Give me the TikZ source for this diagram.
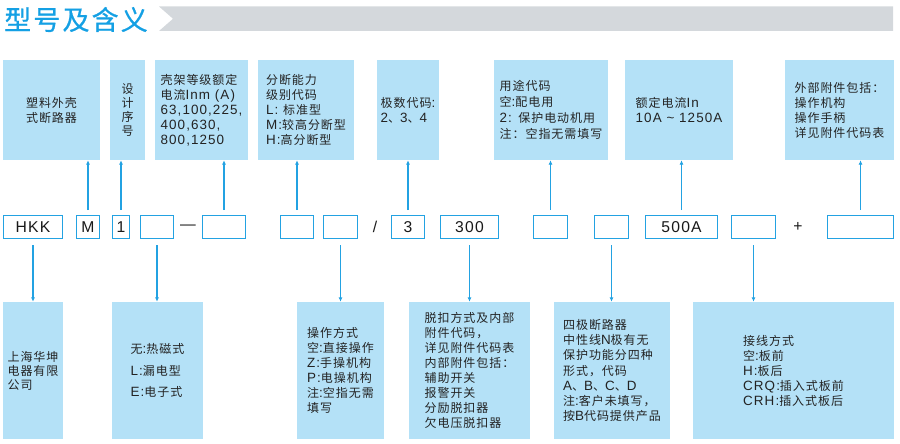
\documentclass[tikz,border=0pt]{standalone}
\usepackage{fontspec}
\usetikzlibrary{arrows.meta}
\setmainfont{Liberation Sans}
\newfontfamily\lat{Liberation Sans}[Scale=1.12,LetterSpace=8]
\newfontfamily\cjk{Noto Sans CJK SC}[LetterSpace=8]
\newfontfamily\titlefont{Noto Sans CJK SC}[LetterSpace=8,FakeBold=0.7]
\newcommand\mytitlesetup{\XeTeXinterchartokenstate=0 \titlefont\fontsize{27}{27}\selectfont}
% automatic switching between Latin and CJK fonts
\newXeTeXintercharclass\mycjkclass
\count255=0
\loop
\XeTeXcharclass\count255=0
\ifnum\count255<"2FFF \advance\count255 by 1 \repeat
\count255="3000
\loop
\XeTeXcharclass\count255=\mycjkclass
\ifnum\count255<"9FFF \advance\count255 by 1 \repeat
\count255="FF00
\loop
\XeTeXcharclass\count255=\mycjkclass
\ifnum\count255<"FFEF \advance\count255 by 1 \repeat
\XeTeXinterchartokenstate=1
\XeTeXinterchartoks 0 \mycjkclass={\cjk}
\XeTeXinterchartoks 4095 \mycjkclass={\cjk}
\XeTeXinterchartoks \mycjkclass 0={\lat}
\XeTeXinterchartoks 4095 0={\lat}
\definecolor{boxfill}{RGB}{180,225,247}
\definecolor{blueline}{RGB}{35,162,226}
\definecolor{titleblue}{RGB}{20,160,228}
\definecolor{graybar}{RGB}{212,216,220}
\definecolor{textcol}{RGB}{35,35,35}
\tikzset{
  infobox/.style={fill=boxfill, draw=none, inner sep=1pt, align=left, text=textcol,
    font=\fontsize{12}{15}\selectfont},
  topbox/.style={infobox, minimum height=100},
  botbox/.style={infobox, minimum height=137},
  codebox/.style={draw=blueline, line width=1.3pt, fill=white, inner sep=0pt,
    minimum height=22.7, text=black!90, font=\fontsize{14}{18}\selectfont},
  sepmark/.style={inner sep=0pt, text=black!90, font=\fontsize{14}{18}\selectfont},
  arr/.style={draw=blueline, line width=1.2pt, -{Latex[length=4.5pt,width=4pt]}},
}
\begin{document}
\begin{tikzpicture}[x=1pt,y=-1pt]
\useasboundingbox (0,0) rectangle (900,444);
% title
\fill[graybar] (159,6.5) -- (893,6.5) -- (893,31) -- (159,31) -- (173,18.75) -- cycle;
\node[anchor=west, inner sep=0pt, text=titleblue, font=\mytitlesetup] (title) at (4,19.5) {型号及含义};
% top boxes
\node[topbox, minimum width=97] (T1) at (51.5,110) {塑料外壳\\式断路器};
\node[topbox, minimum width=35, font=\fontsize{12}{14}\selectfont] (T2) at (127.5,110) {设\\计\\序\\号};
\node[topbox, minimum width=93] (T3) at (201.5,110) {壳架等级额定\\电流Inm (A)\\63,100,225,\\400,630,\\800,1250};
\node[topbox, minimum width=96] (T4) at (306,110) {分断能力\\级别代码\\L: 标准型\\M:较高分断型\\H:高分断型};
\node[topbox, minimum width=62] (T5) at (408,110) {极数代码:\\2、3、4};
\node[topbox, minimum width=114, font=\fontsize{12}{16}\selectfont] (T6) at (551,110) {用途代码\\空:配电用\\2: 保护电动机用\\注：空指无需填写};
\node[topbox, minimum width=108] (T7) at (679,110) {额定电流In\\10A \textasciitilde{} 1250A};
\node[topbox, minimum width=109] (T8) at (839.5,110) {外部附件包括：\\操作机构\\操作手柄\\详见附件代码表};
% code row
\node[codebox, minimum width=58.7] (HKK) at (33,227) {HKK};
\node[codebox, minimum width=22.7] (M) at (88,227) {M};
\node[codebox, minimum width=16.7] (one) at (121,227) {1};
\node[codebox, minimum width=32.7] (E1) at (157,227) {};
\node[sepmark] (dash) at (188,227) {—};
\node[codebox, minimum width=42.7] (E2) at (224,227) {};
\node[codebox, minimum width=32.7] (E3) at (297,227) {};
\node[codebox, minimum width=33.7] (E4) at (340.5,227) {};
\node[sepmark] (slash) at (375,227) {/};
\node[codebox, minimum width=32.7] (three) at (408,227) {3};
\node[codebox, minimum width=57.7] (n300) at (469.5,227) {300};
\node[codebox, minimum width=33.7] (E5) at (550.5,227) {};
\node[codebox, minimum width=33.7] (E6) at (611.5,227) {};
\node[codebox, minimum width=71.7] (n500) at (681.5,227) {500A};
\node[codebox, minimum width=43.7] (E7) at (753.5,227) {};
\node[sepmark] (plus) at (798,227) {+};
\node[codebox, minimum width=65.7] (E8) at (860.5,227) {};
% bottom boxes
\node[botbox, minimum width=60, font=\fontsize{12}{14}\selectfont] (B1) at (33,370.5) {上海华坤\\电器有限\\公司};
\node[botbox, minimum width=91, font=\fontsize{12}{21.5}\selectfont] (B2) at (157.5,370.5) {无:热磁式\\L:漏电型\\E:电子式};
\node[botbox, minimum width=87] (B3) at (340.5,370.5) {操作方式\\空:直接操作\\Z:手操机构\\P:电操机构\\注:空指无需\\填写};
\node[botbox, minimum width=121] (B4) at (469.5,370.5) {脱扣方式及内部\\附件代码，\\详见附件代码表\\内部附件包括：\\辅助开关\\报警开关\\分励脱扣器\\欠电压脱扣器};
\node[botbox, minimum width=116, font=\fontsize{12}{15.3}\selectfont] (B5) at (612,370.5) {四极断路器\\中性线N极有无\\保护功能分四种\\形式，代码\\A、B、C、D\\注:客户未填写，\\按B代码提供产品};
\node[botbox, minimum width=201] (B6) at (793.5,370.5) {接线方式\\空:板前\\H:板后\\CRQ:插入式板前\\CRH:插入式板后};
% upward arrows
\draw[arr] ([yshift=5pt]M.north) -- (M.north |- T1.south);
\draw[arr] ([yshift=5pt]one.north) -- (one.north |- T2.south);
\draw[arr] ([yshift=5pt]E2.north) -- (E2.north |- T3.south);
\draw[arr] ([yshift=5pt]E3.north) -- (E3.north |- T4.south);
\draw[arr] ([yshift=5pt]three.north) -- (three.north |- T5.south);
\draw[arr] ([yshift=5pt]E5.north) -- (E5.north |- T6.south);
\draw[arr] ([yshift=5pt]n500.north) -- (n500.north |- T7.south);
\draw[arr] ([yshift=5pt]E8.north) -- (E8.north |- T8.south);
% downward arrows
\draw[arr] ([yshift=-6pt]HKK.south) -- (HKK.south |- B1.north);
\draw[arr] ([yshift=-6pt]E1.south) -- (E1.south |- B2.north);
\draw[arr] ([yshift=-6pt]E4.south) -- (E4.south |- B3.north);
\draw[arr] ([yshift=-6pt]n300.south) -- (n300.south |- B4.north);
\draw[arr] ([yshift=-6pt]E6.south) -- (E6.south |- B5.north);
\draw[arr] ([yshift=-6pt]E7.south) -- (E7.south |- B6.north);
\end{tikzpicture}
\end{document}
